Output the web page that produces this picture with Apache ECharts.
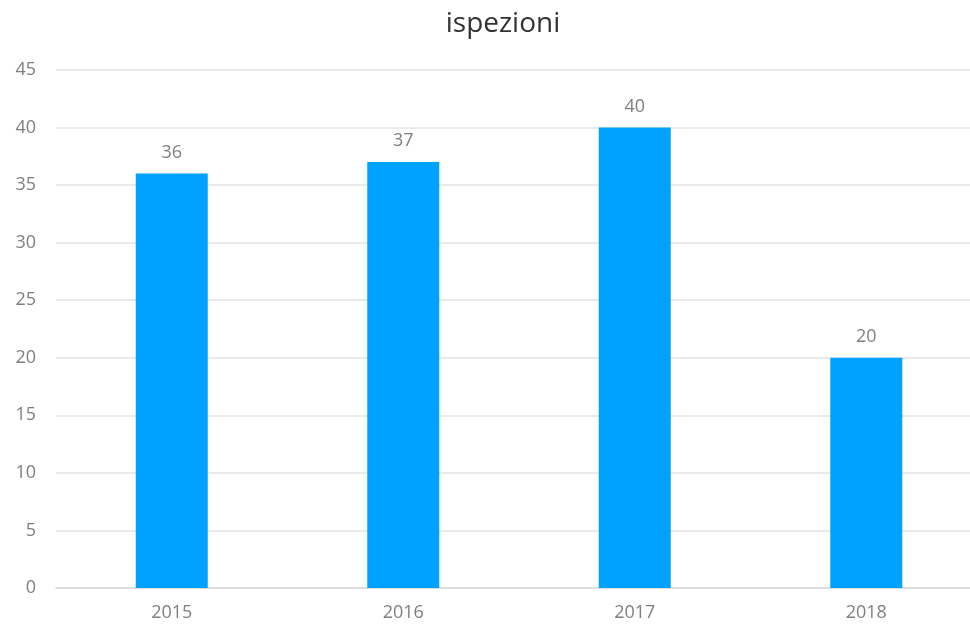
<!DOCTYPE html>
<html><head><meta charset="utf-8">
<script src="https://cdn.jsdelivr.net/npm/echarts@6/dist/echarts.min.js"></script>
<style>html,body{margin:0;padding:0;background:#fff}#c{width:970px;height:626px}</style>
</head><body><div id="c"></div>
<script>
const categories = ['2015', '2016', '2017', '2018'];
const values = [36, 37, 40, 20];
const titleText = 'ispezioni';

const chart = echarts.init(document.getElementById('c'));
chart.setOption({
  animation: false,
  title: { text: titleText, left: 498, textAlign: 'center', top: 5,
    textStyle: { fontFamily: 'Open Sans', fontSize: 28, fontWeight: 'normal', color: '#333' } },
  grid: { left: 56, top: 70, bottom: 38, width: 926, outerBoundsMode: 'none', containLabel: false },
  xAxis: { type: 'category', data: categories,
    axisLine: { lineStyle: { color: '#d9d9d9', width: 1.5 } }, axisTick: { show: false },
    axisLabel: { color: '#7f7f7f', fontSize: 18, fontFamily: 'Open Sans', margin: 16 } },
  yAxis: { type: 'value', min: 0, max: 45, interval: 5,
    axisLine: { show: false }, axisTick: { show: false },
    splitLine: { lineStyle: { color: '#e3e3e3', width: 1.5 } },
    axisLabel: { color: '#7f7f7f', fontSize: 18, fontFamily: 'Open Sans', margin: 20 } },
  series: [{ type: 'bar', data: values, barWidth: 72,
    itemStyle: { color: '#00a2ff' },
    label: { show: true, position: 'top', distance: 12, color: '#7f7f7f', fontSize: 18, fontFamily: 'Open Sans' } }]
});
</script></body></html>
